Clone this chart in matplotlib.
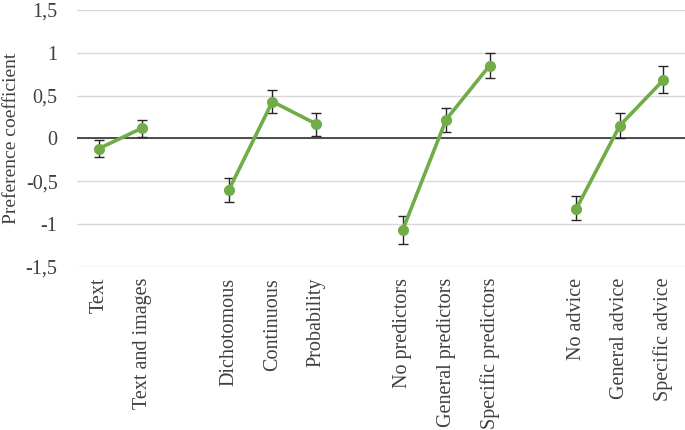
import matplotlib.pyplot as plt

plt.rcParams['font.family'] = ['Liberation Serif', 'DejaVu Serif']

labels = ['Text', 'Text and images',
          'Dichotomous', 'Continuous', 'Probability',
          'No predictors', 'General predictors', 'Specific predictors',
          'No advice', 'General advice', 'Specific advice']
groups = [[0, 1], [3, 4, 5], [7, 8, 9], [11, 12, 13]]
coef = [[-0.12, 0.12],
        [-0.60, 0.43, 0.17],
        [-1.07, 0.22, 0.85],
        [-0.82, 0.15, 0.68]]
err_lo = [[0.10, 0.10],
          [0.14, 0.13, 0.14],
          [0.16, 0.14, 0.15],
          [0.14, 0.15, 0.15]]
err_hi = [[0.10, 0.10],
          [0.14, 0.13, 0.13],
          [0.16, 0.14, 0.15],
          [0.15, 0.15, 0.16]]
yticks = [-1.5, -1, -0.5, 0, 0.5, 1, 1.5]
ytick_labels = ['-1,5', '-1', '-0,5', '0', '0,5', '1', '1,5']

fig = plt.figure(figsize=(6.85, 4.3), dpi=100)
ax = fig.add_axes([0.1124, 0.3798, 0.8876, 0.5969])

green = '#70AD47'
for pos, y, lo, hi in zip(groups, coef, err_lo, err_hi):
    ax.errorbar(pos, y, yerr=[lo, hi], fmt='none', ecolor='#262626',
                elinewidth=1.0, capsize=3.5, capthick=1.0, zorder=3)
    ax.plot(pos, y, color=green, lw=2.6, marker='o', ms=7, zorder=4)

ax.set_xlim(-0.5, 13.5)
ax.set_ylim(-1.5, 1.5)
ax.set_yticks(yticks)
ax.set_yticklabels(ytick_labels, fontsize=14.5, color='#404040')
ax.set_xticks([p for g in groups for p in g])
ax.set_xticklabels(labels, rotation=90, fontsize=14.5, color='#404040', va='top')
ax.tick_params(axis='both', length=0)
ax.tick_params(axis='y', pad=14)
ax.tick_params(axis='x', pad=8)

for s in ax.spines.values():
    s.set_visible(False)
ax.grid(axis='y', color='#D9D9D9', lw=1.0, zorder=0)
ax.axhline(0, color='#404040', lw=1.3, zorder=2)
ax.set_ylabel('Preference coefficient', fontsize=14, color='#404040')
ax.yaxis.set_label_coords(-0.093, 0.5)

fig.savefig('out.png', dpi=100)
